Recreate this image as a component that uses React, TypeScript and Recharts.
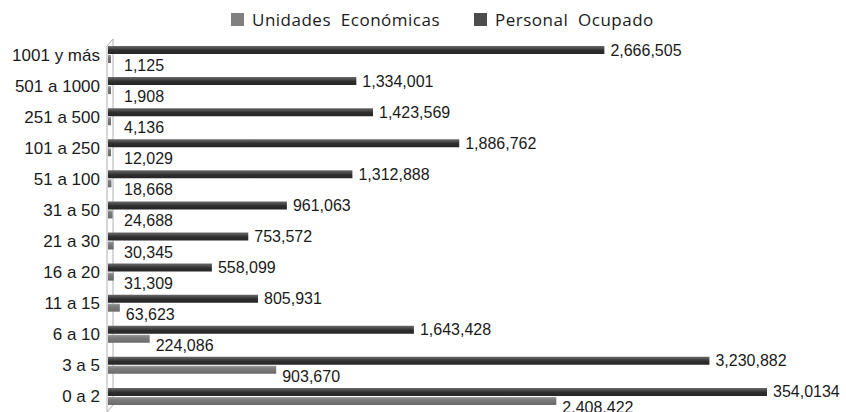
import React from "react"
import { BarChart, Bar, XAxis, YAxis, LabelList, ReferenceArea } from "recharts"

const categorias = [
  "1001 y más", "501 a 1000", "251 a 500", "101 a 250", "51 a 100", "31 a 50",
  "21 a 30", "16 a 20", "11 a 15", "6 a 10", "3 a 5", "0 a 2",
]
const unidades = [1125, 1908, 4136, 12029, 18668, 24688, 30345, 31309, 63623, 224086, 903670, 2408422]
const personal = [2666505, 1334001, 1423569, 1886762, 1312888, 961063, 753572, 558099, 805931, 1643428, 3230882, 3540134]
// etiquetas tal como aparecen en la imagen (incluye los errores de formato)
const etiquetasUnidades = ["1,125", "1,908", "4,136", "12,029", "18,668", "24,688", "30,345", "31,309", "63,623", "224,086", "903,670", "2.408.422"]
const etiquetasPersonal = ["2,666,505", "1,334,001", "1,423,569", "1,886,762", "1,312,888", "961,063", "753,572", "558,099", "805,931", "1,643,428", "3,230,882", "354,0134"]

const data = categorias.map((c, i) => ({
  rango: c,
  unidades: unidades[i],
  personal: personal[i],
  lblU: etiquetasUnidades[i],
  lblP: etiquetasPersonal[i],
}))

const FONT = "Liberation Sans, Arial, sans-serif"

const LabelPersonal = (props: any) => {
  const { x, y, width, height, index } = props
  return (
    <text x={x + width + 6} y={y + height / 2} dominantBaseline="central"
      fontFamily={FONT} fontSize={16} fill="#1a1a1a">
      {etiquetasPersonal[index]}
    </text>
  )
}

const LabelUnidades = (props: any) => {
  const { x, y, width, height, index } = props
  const lx = Math.max(x + width + 6, x + 16)
  return (
    <text x={lx} y={y + height + 2.5} dominantBaseline="central"
      fontFamily={FONT} fontSize={16} fill="#1a1a1a">
      {etiquetasUnidades[index]}
    </text>
  )
}

const Wall = (props: any) => {
  const { x, y, height } = props
  const pts = [
    [x - 1, y + 7], [x + 5, y], [x + 5, y + height - 7], [x - 1, y + height],
  ].map((p) => p.join(",")).join(" ")
  return <polygon points={pts} fill="#fff" stroke="#b0b0b0" strokeWidth={1} />
}

const cuadro = (color: string) => (
  <span style={{ width: 13, height: 13, background: color, marginRight: 8, display: "inline-block", flexShrink: 0 }} />
)

const Leyenda = () => (
  <div style={{ position: "absolute", top: 8, left: 231, display: "flex", fontFamily: "'Open Sans', sans-serif", fontSize: 17, letterSpacing: 0.5, color: "#1a1a1a", whiteSpace: "nowrap" }}>
    <span style={{ display: "flex", alignItems: "center", width: 243 }}>
      {cuadro("#808080")}
      Unidades&nbsp; Económicas
    </span>
    <span style={{ display: "flex", alignItems: "center" }}>
      {cuadro("#4d4d4d")}
      Personal&nbsp; Ocupado
    </span>
  </div>
)

export default function App() {
  return (
    <div style={{ position: "absolute", left: 0, top: 0, width: 846, height: 412, background: "#fff", fontFamily: FONT }}>
      <Leyenda />
      <BarChart width={846} height={412} data={data} layout="vertical" style={{ fontFamily: FONT }}
        margin={{ top: 39, right: 12, bottom: 0, left: 0 }} barCategoryGap={7} barGap={1}>
        <defs>
          <linearGradient id="gP" x1="0" y1="0" x2="0" y2="1">
            <stop offset="0%" stopColor="#6a6a6a" />
            <stop offset="30%" stopColor="#4a4a4a" />
            <stop offset="55%" stopColor="#2e2e2e" />
            <stop offset="100%" stopColor="#262626" />
          </linearGradient>
          <linearGradient id="gU" x1="0" y1="0" x2="0" y2="1">
            <stop offset="0%" stopColor="#a0a0a0" />
            <stop offset="30%" stopColor="#7e7e7e" />
            <stop offset="100%" stopColor="#6a6a6a" />
          </linearGradient>
        </defs>
        <XAxis type="number" domain={[0, 3900000]} hide />
        <YAxis type="category" dataKey="rango" width={108} axisLine={false} tickLine={false}
          tick={{ fontFamily: FONT, fontSize: 17, fill: "#1a1a1a" }} tickMargin={2} interval={0} />
        <ReferenceArea x1={0} x2={30000} shape={Wall} ifOverflow="visible" />
        <Bar dataKey="personal" fill="url(#gP)" isAnimationActive={false} barSize={8} minPointSize={3}>
          <LabelList dataKey="lblP" content={LabelPersonal} />
        </Bar>
        <Bar dataKey="unidades" fill="url(#gU)" isAnimationActive={false} barSize={8} minPointSize={3}>
          <LabelList dataKey="lblU" content={LabelUnidades} />
        </Bar>
      </BarChart>
    </div>
  )
}
